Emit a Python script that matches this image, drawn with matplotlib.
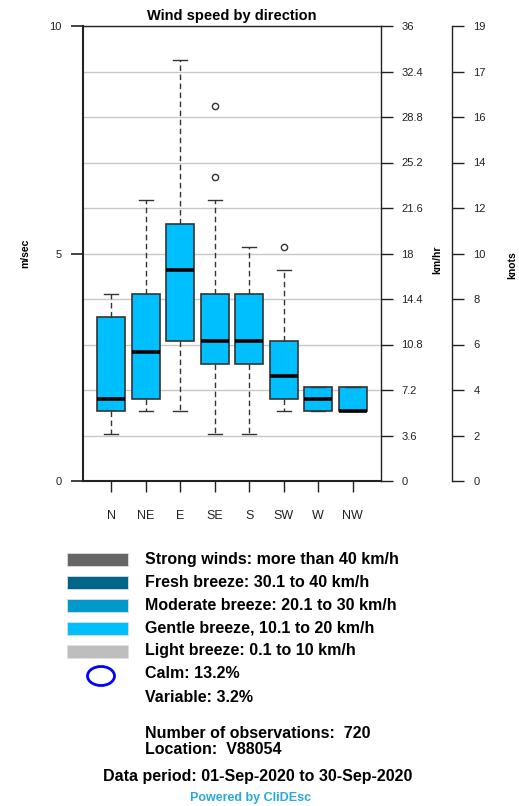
import matplotlib
matplotlib.use("Agg")
import matplotlib.pyplot as plt
from matplotlib.patches import Ellipse, Rectangle

plt.rcParams["font.family"] = ["Liberation Sans", "DejaVu Sans"]

KNOTS_TO_MS = 0.514444

# box statistics (in knots)
directions = ["N", "NE", "E", "SE", "S", "SW", "W", "NW"]
whisker_low = [2, 3, 3, 2, 2, 3, 3, 3]
q1 = [3, 3.5, 6, 5, 5, 3.5, 3, 3]
median = [3.5, 5.5, 9, 6, 6, 4.5, 3.5, 3]
q3 = [7, 8, 11, 8, 8, 6, 4, 4]
whisker_high = [8, 12, 18, 12, 10, 9, 4, 4]
outliers = [[], [], [], [13, 16], [], [10], [], []]

ms_ticks = [0, 5, 10]
kmh_labels = ["0", "3.6", "7.2", "10.8", "14.4", "18", "21.6", "25.2", "28.8", "32.4", "36"]
knot_labels = ["0", "2", "4", "6", "8", "10", "12", "14", "16", "17", "19"]

legend_labels = [
    "Strong winds: more than 40 km/h",
    "Fresh breeze: 30.1 to 40 km/h",
    "Moderate breeze: 20.1 to 30 km/h",
    "Gentle breeze, 10.1 to 20 km/h",
    "Light breeze: 0.1 to 10 km/h",
]
legend_colors = ["#666666", "#006689", "#0099CC", "#00BFFF", "#BEBEBE"]
calm_pct = 13.2
variable_pct = 3.2
n_obs = 720
station = "V88054"
period = ("01-Sep-2020", "30-Sep-2020")

W, H = 519, 806
fig = plt.figure(figsize=(W / 100, H / 100), dpi=100)


def px_box(x0, y0, x1, y1):
    # pixel box (top-left origin) -> figure fraction rect
    return [x0 / W, 1 - y1 / H, (x1 - x0) / W, (y1 - y0) / H]


ax = fig.add_axes(px_box(83, 26, 381, 481))

stats = []
for i, d in enumerate(directions):
    stats.append(
        {
            "label": d,
            "whislo": whisker_low[i] * KNOTS_TO_MS,
            "q1": q1[i] * KNOTS_TO_MS,
            "med": median[i] * KNOTS_TO_MS,
            "q3": q3[i] * KNOTS_TO_MS,
            "whishi": whisker_high[i] * KNOTS_TO_MS,
            "fliers": [v * KNOTS_TO_MS for v in outliers[i]],
        }
    )

edge = "#333333"
ax.bxp(
    stats,
    positions=range(1, len(directions) + 1),
    widths=0.8,
    capwidths=0.4,
    patch_artist=True,
    boxprops=dict(facecolor="#00BFFF", edgecolor=edge, linewidth=1.2),
    medianprops=dict(color="black", linewidth=2.6, solid_capstyle="butt"),
    whiskerprops=dict(color=edge, linewidth=1.0, linestyle=(0, (4, 2.5))),
    capprops=dict(color=edge, linewidth=1.0),
    flierprops=dict(marker="o", markersize=4.5, markerfacecolor="none",
                    markeredgecolor=edge, markeredgewidth=1.0),
    zorder=3,
)

ax.set_xlim(0.18, 8.82)
ax.set_ylim(0, 10)
ax.set_yticks(ms_ticks)
ax.set_yticklabels([str(t) for t in ms_ticks])
ax.set_yticks(range(11), minor=True)
ax.grid(True, axis="y", which="both", color="#c8c8c8", linewidth=1.0, zorder=0)
ax.set_axisbelow(True)
ax.tick_params(axis="y", which="minor", length=0)
ax.tick_params(axis="y", which="major", direction="out", length=8.5, width=1.2,
               pad=7, labelsize=8, colors="#222222")
ax.tick_params(axis="x", direction="out", length=8, width=1.0, pad=13,
               labelsize=9, colors="#222222")
ax.set_xticklabels(directions)
for side in ["left", "bottom"]:
    ax.spines[side].set_linewidth(1.5)
    ax.spines[side].set_color("#222222")
for side in ["top", "right"]:
    ax.spines[side].set_linewidth(1.0)
    ax.spines[side].set_color("#222222")

ax.set_title("Wind speed by direction", fontsize=10.5, fontweight="bold", pad=4)

# km/hr axis on the box edge
ax_kmh = ax.twinx()
ax_kmh.set_ylim(0, 10)
ax_kmh.set_yticks(range(11))
ax_kmh.set_yticklabels(kmh_labels)
ax_kmh.tick_params(axis="y", direction="out", length=8.5, width=1.0, pad=6,
                   labelsize=8, colors="#222222")
for side in ["left", "top", "bottom", "right"]:
    ax_kmh.spines[side].set_visible(False)

# knots axis further right (outward offset is in points: 71 px at 100 dpi)
ax_kn = ax.twinx()
ax_kn.set_ylim(0, 10)
ax_kn.set_yticks(range(11))
ax_kn.set_yticklabels(knot_labels)
ax_kn.spines["right"].set_position(("outward", 71 * 72 / 100))
ax_kn.spines["right"].set_linewidth(1.0)
ax_kn.spines["right"].set_color("#222222")
for side in ["left", "top", "bottom"]:
    ax_kn.spines[side].set_visible(False)
ax_kn.tick_params(axis="y", direction="out", length=8.5, width=1.0, pad=7,
                  labelsize=8, colors="#222222")

fig.text(25 / W, 1 - 253 / H, "m/sec", rotation=90, ha="center", va="center",
         fontsize=7.5, fontweight="bold")
fig.text(437 / W, 1 - 260 / H, "km/hr", rotation=90, ha="center", va="center",
         fontsize=7.5, fontweight="bold")
fig.text(512 / W, 1 - 265 / H, "knots", rotation=90, ha="center", va="center",
         fontsize=7.5, fontweight="bold")

# legend and footer drawn in pixel coordinates
lg = fig.add_axes([0, 0, 1, 1])
lg.set_xlim(0, W)
lg.set_ylim(H, 0)
lg.axis("off")
lg.patch.set_alpha(0)

row_y = [559.5, 582.5, 605.5, 628, 651]
for y, lab, col in zip(row_y, legend_labels, legend_colors):
    lg.add_patch(Rectangle((67, y - 6.5), 61, 13, facecolor=col, edgecolor="#dddddd",
                           linewidth=0.6))
    lg.text(145, y, lab, fontsize=11.5, fontweight="bold", va="center", ha="left")

lg.add_patch(Ellipse((101, 676), 27, 19, facecolor="none", edgecolor="#0000ff",
                     linewidth=2))
lg.text(145, 674, f"Calm: {calm_pct}%", fontsize=11.5, fontweight="bold", va="center")
lg.text(145, 697, f"Variable: {variable_pct}%", fontsize=11.5, fontweight="bold",
        va="center")
lg.text(145, 733, f"Number of observations:  {n_obs}", fontsize=11.5,
        fontweight="bold", va="center")
lg.text(145, 750, f"Location:  {station}", fontsize=11.5, fontweight="bold",
        va="center")
lg.text(258, 776, f"Data period: {period[0]} to {period[1]}", fontsize=11.5,
        fontweight="bold", va="center", ha="center")
lg.text(251, 798, "Powered by CliDEsc", fontsize=9, fontweight="bold",
        va="center", ha="center", color="#29a8e0")

fig.savefig("out.png", dpi=100)
